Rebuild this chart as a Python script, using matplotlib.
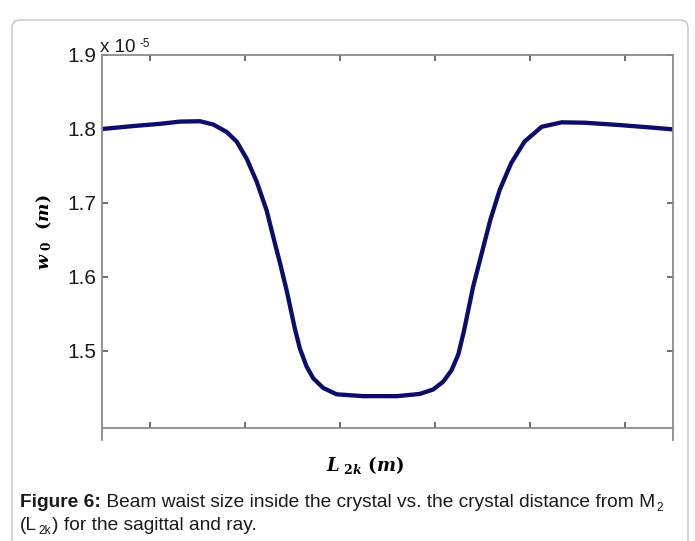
import matplotlib
matplotlib.use("Agg")
import matplotlib.pyplot as plt
from matplotlib.patches import FancyBboxPatch

# ---- data (w0 in units of 1e-5 m; L2k in arbitrary axis units) ----
L2k = [0.0, 0.33, 0.61, 0.82, 1.03, 1.17, 1.31, 1.415, 1.52, 1.625, 1.73, 1.80,
       1.87, 1.94, 2.027, 2.08, 2.15, 2.22, 2.325, 2.465, 2.745, 3.10,
       3.34, 3.48, 3.585, 3.673, 3.743, 3.80, 3.90, 3.99, 4.08, 4.18, 4.30, 4.44,
       4.62, 4.83, 5.07, 5.42, 5.77, 6.0]
w0 = [1.800, 1.804, 1.807, 1.810, 1.8105, 1.806, 1.796, 1.783, 1.760, 1.729, 1.690, 1.654,
      1.619, 1.582, 1.530, 1.503, 1.479, 1.463, 1.450, 1.4415, 1.439, 1.439,
      1.442, 1.448, 1.4585, 1.474, 1.495, 1.525, 1.587, 1.632, 1.677, 1.718, 1.754, 1.783,
      1.803, 1.809, 1.8085, 1.8055, 1.802, 1.7995]
x_ticks = [0.5, 1.5, 2.5, 3.5, 4.5, 5.5]
y_ticks = [1.5, 1.6, 1.7, 1.8, 1.9]
y_tick_labels = ["1.5", "1.6", "1.7", "1.8", "1.9"]

sans = "Liberation Sans"
cap_font = "Liberation Sans"

plt.rcParams["mathtext.fontset"] = "custom"
plt.rcParams["mathtext.it"] = "DejaVu Serif:italic:bold"
plt.rcParams["mathtext.rm"] = "DejaVu Serif:bold"
plt.rcParams["mathtext.bf"] = "DejaVu Serif:bold"

W, H = 695, 541
fig = plt.figure(figsize=(W / 100, H / 100), dpi=100)
fig.patch.set_facecolor("white")

# outer rounded frame (open at the bottom)
frame = FancyBboxPatch((0.12, -0.3), 6.76, 5.31 + 0.3 - 0.1,
                       boxstyle="round,pad=0,rounding_size=0.08",
                       transform=fig.dpi_scale_trans, facecolor="none",
                       edgecolor="#c4c4c4", linewidth=1.0)
fig.patches.append(frame)

ax_l, ax_r, ax_t, ax_b = 102, 673, 55, 428
ah = ax_b - ax_t
ax = fig.add_axes([ax_l / W, 1 - ax_b / H, (ax_r - ax_l) / W, ah / H])
ax.plot(L2k, w0, color="#0c0c6c", linewidth=3.1, solid_capstyle="round",
        solid_joinstyle="round")
ax.set_xlim(0, 6)
ax.set_ylim(1.9 - ah / 740.0, 1.9)
ax.set_xticks(x_ticks)
ax.set_xticklabels([])
ax.set_yticks(y_ticks)
ax.set_yticklabels(y_tick_labels, fontsize=15, fontfamily=sans, color="#1a1a1a")

spine_c = "#8c8c8c"
for s in ax.spines.values():
    s.set_color(spine_c)
    s.set_linewidth(1.3)
ax.tick_params(axis="both", direction="in", length=4, width=1.2, color="#555555",
               top=True, right=True, bottom=True, left=True, pad=4)

# spines continuing below the x axis line
ext = 12 / ah
ax.plot([0, 0], [0, -ext], transform=ax.transAxes, color=spine_c, lw=1.3, clip_on=False)
ax.plot([1, 1], [0, -ext], transform=ax.transAxes, color=spine_c, lw=1.3, clip_on=False)

# exponent label
ax.text(-0.004, 1.0 + 3 / ah, "x 10", transform=ax.transAxes, fontsize=13.5,
        fontfamily=sans, color="#1a1a1a", ha="left", va="baseline")
ax.text((140 - ax_l) / (ax_r - ax_l), 1.0 + 8 / ah, "-5", transform=ax.transAxes,
        fontsize=8.5, fontfamily=sans, color="#1a1a1a", ha="left", va="baseline")

# axis labels
ax.set_ylabel(r"$w_{\ \mathrm{0}}\ \ (m)$", fontsize=12.5)
ax.yaxis.set_label_coords((44 - ax_l) / (ax_r - ax_l), 1 - (232 - ax_t) / ah)
ax.yaxis.label.set_va("center")
ax.set_xlabel(r"$L_{\ \mathrm{2}k}\ (m)$", fontsize=13)
ax.xaxis.set_label_coords((365 - ax_l) / (ax_r - ax_l), -(465 - ax_b) / ah)
ax.xaxis.label.set_va("center")

# caption built from pieces
fig.canvas.draw()
renderer = fig.canvas.get_renderer()

def put_line(pieces, x_px, base_px, size):
    x = x_px
    for txt, weight, sub in pieces:
        fs = size * (0.62 if sub else 1.0)
        y = base_px + (4 if sub else 0)
        if sub:
            x += 1.5
        t = fig.text(x / W, 1 - y / H, txt, fontsize=fs, fontweight=weight,
                     fontfamily=cap_font, color="#1a1a1a", ha="left", va="baseline")
        bb = t.get_window_extent(renderer=renderer)
        x += bb.width + (1.0 if sub else 0)
    return x

cap_size = 13.8
put_line([("Figure 6:", "bold", False),
          (" Beam waist size inside the crystal vs. the crystal distance from M", "normal", False),
          ("2", "normal", True)], 20, 507, cap_size)
put_line([("(L", "normal", False), ("2k", "normal", True),
          (") for the sagittal and ray.", "normal", False)], 20, 530, cap_size)

fig.savefig("out.png", dpi=100, facecolor="white")
